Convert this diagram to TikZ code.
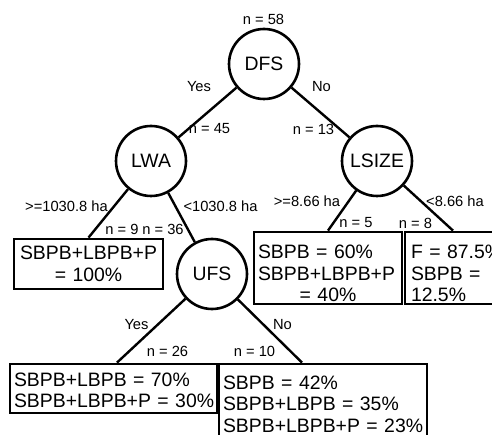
\documentclass[tikz,border=0pt]{standalone}
\usepackage{fontspec}
\setmainfont{Liberation Sans}
\newcommand\bigf{\fontsize{19.4}{21.5}\selectfont}
\newcommand\smallf{\fontsize{14.7}{17}\selectfont}
\tikzset{
  dec/.style={circle, draw, line width=2.6pt, minimum size=70pt, inner sep=0pt, font=\bigf},
  leaf/.style={draw, line width=2.8pt, inner sep=0pt, font=\bigf},
  lab/.style={inner sep=0pt, font=\smallf},
  edge/.style={line width=2.4pt}
}
\begin{document}
\begin{tikzpicture}[x=1pt,y=-1pt]
\useasboundingbox (0,0) rectangle (492,435);
\clip (0,0) rectangle (492,435);
% decision nodes
\node[dec] (DFS) at (264,64) {DFS};
\node[dec] (LWA) at (151,161) {LWA};
\node[dec] (LSIZE) at (377,161) {LSIZE};
\node[dec] (UFS) at (212,274) {UFS};
% leaves
\node[leaf, minimum width=149pt, minimum height=50pt, text width=141pt, align=center] (boxA) at (88.5,264) {SBPB+LBPB+P\\=~100\%};
\node[leaf, minimum width=148pt, minimum height=72pt, text width=140pt, align=left] (boxB) at (328,268) {\rule{0pt}{25pt}SBPB~=~60\%\\SBPB+LBPB+P\\\makebox[140pt][c]{= 40\%}};
\node[leaf, minimum width=102pt, minimum height=72pt, text width=90pt, align=left] (boxC) at (456,268) {\rule{0pt}{25pt}F~=~87.5\%\\SBPB~=\\12.5\%};
\node[leaf, minimum width=207pt, minimum height=49pt, text width=199pt, align=left] (boxD) at (113.5,388.5) {\rule{0pt}{17pt}SBPB+LBPB~=~70\%\\SBPB+LBPB+P~=~30\%};
\node[leaf, minimum width=208pt, minimum height=80pt, text width=200pt, align=left] (boxE) at (323,404) {SBPB~=~42\%\\SBPB+LBPB~=~35\%\\SBPB+LBPB+P~=~23\%};
% edges
\draw[edge] (DFS) -- (LWA);
\draw[edge] (DFS) -- (LSIZE);
\draw[edge] (LWA) -- (boxA.north);
\draw[edge] (LWA) -- (UFS);
\draw[edge] (LSIZE) -- (boxB.north);
\draw[edge] (LSIZE) -- ([xshift=-3pt]boxC.north);
\draw[edge] (UFS) -- ([xshift=3.5pt]boxD.north);
\draw[edge] (UFS) -- ([xshift=-21pt]boxE.north);
% labels
\node[lab] (n58) at (263.5,19) {n = 58};
\node[lab] (yes1) at (199,87) {Yes};
\node[lab] (no1) at (321.5,87) {No};
\node[lab] (n45) at (209.5,129) {n = 45};
\node[lab] (n13) at (313.5,129) {n = 13};
\node[lab] (ge1030) at (66.5,206) {>=1030.8 ha};
\node[lab] (lt1030) at (220.5,206) {<1030.8 ha};
\node[lab] (ge866) at (307,201) {>=8.66 ha};
\node[lab] (lt866) at (455,201) {<8.66 ha};
\node[lab] (n9) at (122,229) {n = 9};
\node[lab] (n36) at (163,229) {n = 36};
\node[lab] (n5) at (356,223) {n = 5};
\node[lab] (n8) at (415.5,223) {n = 8};
\node[lab] (yes2) at (136.5,325) {Yes};
\node[lab] (no2) at (282.5,325) {No};
\node[lab] (n26) at (167.5,351) {n = 26};
\node[lab] (n10) at (254.5,351) {n = 10};
\end{tikzpicture}
\end{document}
